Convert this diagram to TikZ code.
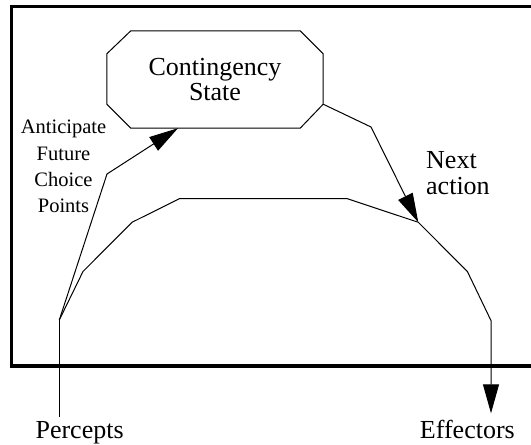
\documentclass[tikz,border=0pt]{standalone}
\usepackage{fontspec}
\setmainfont{Liberation Serif}
\usetikzlibrary{arrows.meta,calc}
\begin{document}
\begin{tikzpicture}[x=1pt,y=-1pt,
  frame/.style={line width=3.3pt},
  wire/.style={line width=1pt,line join=miter},
  arr/.style={wire,-{Triangle[length=29pt,width=16pt]}},
  statebox/.style={minimum width=216pt,minimum height=97pt,inner sep=0pt,align=center,
    font=\fontsize{26}{25.5}\selectfont},
  big/.style={inner sep=0pt,font=\fontsize{26}{25.7}\selectfont},
  small/.style={inner sep=0pt,align=center,font=\fontsize{20.5}{26.2}\selectfont}]
\useasboundingbox (0,0) rectangle (531,445);

% agent boundary (open to the right)
\draw[frame] (531,6.7) -- (11.7,6.7) -- (11.7,366) -- (531,366);

% contingency state: octagon built on the node's corners
\node[statebox] (cs) at (215,79.5) {Contingency\\State};
\draw[wire] ([xshift=24pt]cs.north west) -- ([xshift=-23pt]cs.north east)
  -- ([yshift=-23pt]cs.north east) -- ([yshift=24pt]cs.south east)
  -- ([xshift=-23pt]cs.south east) -- ([xshift=24pt]cs.south west)
  -- ([yshift=24pt]cs.south west) -- ([yshift=-23pt]cs.north west) -- cycle;

% labels
\node[small] (ant) at (63.5,166.5) {Anticipate\\Future\\Choice\\Points};
\node[big,anchor=west,align=left] (next) at (426,173) {Next\\action};
\node[big,anchor=base] (perc) at (79.6,438.5) {Percepts};
\node[big,anchor=base] (eff) at (467.4,438.5) {Effectors};

% reactive arc from percepts to effectors
\coordinate (pin) at (59.3,417);
\coordinate (d0) at (59.3,320);
\coordinate (d1) at (83,271.5);
\coordinate (d2) at (132,222.3);
\coordinate (d3) at (179.5,198.6);
\coordinate (d4) at (347,198.6);
\coordinate (d5) at (418.3,222.3);
\coordinate (d6) at (467.4,271.5);
\coordinate (d7) at (491,320.6);
\coordinate (eout) at (491,413.3);
\coordinate (abend) at (107,174);
\coordinate (nbend) at (371,127);

\draw[wire] (pin) -- (d0);
\draw[arr] (d0) -- (d1) -- (d2) -- (d3) -- (d4) -- (d5) -- (d6) -- (d7) -- (eout);

% anticipation into the contingency state, and next action out of it
\draw[arr] (d0) -- (abend) -- ([xshift=-37pt]cs.south);
\draw[arr] ([yshift=24pt]cs.south east) -- (nbend) -- (d5);
\end{tikzpicture}
\end{document}
